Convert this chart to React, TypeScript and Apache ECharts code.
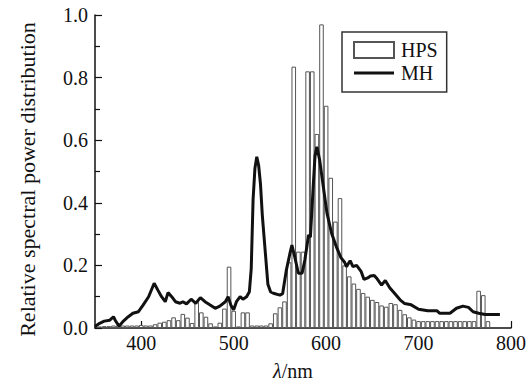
import React, { useEffect, useRef } from 'react';
import * as echarts from 'echarts';

const hpsWavelengths = [
  355, 360, 365, 370, 375, 380, 385, 390, 395, 400,
  405, 410, 415, 420, 425, 430, 435, 440, 445, 450,
  455, 460, 465, 470, 475, 480, 485, 490, 495, 500,
  505, 510, 515, 520, 525, 530, 535, 540, 545, 550,
  555, 560, 565, 570, 575, 580, 585, 590, 595, 600,
  605, 610, 615, 620, 625, 630, 635, 640, 645, 650,
  655, 660, 665, 670, 675, 680, 685, 690, 695, 700,
  705, 710, 715, 720, 725, 730, 735, 740, 745, 750,
  755, 760, 765, 770, 775,
];
const hpsValues = [
  0.005, 0.006, 0.006, 0.008, 0.008, 0.008, 0.008, 0.008, 0.008, 0.010,
  0.008, 0.008, 0.012, 0.017, 0.020, 0.025, 0.034, 0.025, 0.045, 0.033,
  0.016, 0.083, 0.050, 0.036, 0.015, 0.005, 0.017, 0.062, 0.196, 0.055,
  0.005, 0.050, 0.050, 0.008, 0.008, 0.008, 0.008, 0.015, 0.047, 0.066,
  0.085, 0.210, 0.835, 0.244, 0.244, 0.820, 0.820, 0.620, 0.970, 0.710,
  0.480, 0.340, 0.415, 0.200, 0.165, 0.142, 0.125, 0.112, 0.100, 0.090,
  0.083, 0.072, 0.068, 0.080, 0.076, 0.058, 0.044, 0.034, 0.027, 0.022,
  0.022, 0.022, 0.022, 0.022, 0.022, 0.022, 0.022, 0.022, 0.022, 0.022,
  0.022, 0.022, 0.119, 0.105, 0.022,
];

const mhWavelengths = [
  350, 355, 360, 366, 370, 372, 376, 381, 386, 391,
  397, 402, 408, 414, 418, 422, 426, 429, 433, 437,
  442, 445, 449, 454, 459, 464, 469, 475, 480, 485,
  491, 494, 497, 500, 503, 507, 510, 514, 517, 519,
  521, 523, 525, 527, 529, 531, 534, 537, 540, 543,
  550, 553, 557, 561, 563, 566, 570, 574, 577, 581,
  583, 586, 588, 590, 593, 597, 601, 606, 611, 616,
  620, 622, 626, 629, 633, 638, 641, 645, 648, 652,
  655, 660, 664, 669, 674, 680, 685, 692, 700, 710,
  720, 723, 734, 741, 748, 754, 759, 765, 772, 788,
];
const mhValues = [
  0.005, 0.015, 0.022, 0.025, 0.036, 0.024, 0.006, 0.023, 0.036, 0.047,
  0.052, 0.073, 0.100, 0.143, 0.121, 0.100, 0.084, 0.113, 0.100, 0.084,
  0.079, 0.084, 0.077, 0.092, 0.079, 0.097, 0.084, 0.073, 0.063, 0.070,
  0.084, 0.100, 0.073, 0.058, 0.084, 0.100, 0.092, 0.100, 0.116, 0.190,
  0.410, 0.510, 0.547, 0.520, 0.460, 0.360, 0.250, 0.140, 0.115, 0.111,
  0.105, 0.110, 0.185, 0.240, 0.265, 0.228, 0.175, 0.175, 0.217, 0.297,
  0.290, 0.450, 0.550, 0.579, 0.537, 0.451, 0.366, 0.302, 0.260, 0.225,
  0.210, 0.196, 0.215, 0.196, 0.200, 0.180, 0.155, 0.160, 0.166, 0.168,
  0.158, 0.137, 0.152, 0.128, 0.111, 0.090, 0.078, 0.074, 0.060, 0.055,
  0.055, 0.047, 0.047, 0.063, 0.070, 0.066, 0.052, 0.047, 0.043, 0.043,
];

const xTickValues = [400, 500, 600, 700, 800];
const seriesNames = ['HPS', 'MH'];
const xAxisTitle = '{i|λ}/nm';
const yAxisTitle = 'Relative spectral power distribution';

const FONT = "'Liberation Serif', 'Times New Roman', serif";
const INK = '#111';

export default function App() {
  const ref = useRef<HTMLDivElement>(null);
  useEffect(() => {
    if (!ref.current) return;
    const chart = echarts.init(ref.current, null, { renderer: 'svg' });
    const hpsData = hpsWavelengths.map((w, i) => [w, hpsValues[i]]);
    const mhData = mhWavelengths.map((w, i) => [w, mhValues[i]]);
    chart.setOption({
      animation: false,
      backgroundColor: '#ffffff',
      textStyle: { fontFamily: FONT, color: INK },
      grid: { left: 95, right: 18, top: 15, bottom: 53, containLabel: false, outerBoundsMode: 'none' },
      legend: {
        orient: 'vertical',
        left: 342,
        top: 32,
        padding: [8, 9, 9, 11],
        itemWidth: 40,
        itemHeight: 16,
        itemGap: 3,
        symbolKeepAspect: true,
        borderColor: '#333',
        borderWidth: 1.5,
        textStyle: { fontFamily: FONT, fontSize: 20, color: INK, padding: [0, 0, 0, 2] },
        data: [
          { name: seriesNames[0], icon: 'rect' },
          { name: seriesNames[1], icon: 'path://M0,0 L40,0 L40,3 L0,3 Z', itemStyle: { color: INK } },
        ],
      },
      xAxis: {
        type: 'value',
        min: 350,
        max: 800,
        name: xAxisTitle,
        nameLocation: 'middle',
        nameGap: 33,
        nameTextStyle: {
          fontFamily: FONT,
          fontSize: 20,
          color: INK,
          padding: [0, 20, 0, 0],
          rich: { i: { fontFamily: FONT, fontSize: 20, fontStyle: 'italic', color: INK } },
        },
        axisLine: { lineStyle: { color: INK, width: 1.5 } },
        axisTick: { inside: true, length: 7, lineStyle: { color: INK, width: 1.2 }, customValues: xTickValues },
        axisLabel: { fontFamily: FONT, fontSize: 20, color: INK, margin: 5, customValues: xTickValues },
        splitLine: { show: false },
      },
      yAxis: {
        type: 'value',
        min: 0,
        max: 1,
        interval: 0.2,
        name: yAxisTitle,
        nameLocation: 'middle',
        nameRotate: 90,
        nameGap: 57,
        nameTextStyle: { fontFamily: FONT, fontSize: 22, color: INK, padding: [0, 16, 0, 0] },
        axisLine: { show: true, lineStyle: { color: INK, width: 1.5 } },
        axisTick: { show: true, inside: true, length: 7, lineStyle: { color: INK, width: 1.2 } },
        minorTick: { show: true, splitNumber: 2, length: 5, lineStyle: { color: INK, width: 1.2 } },
        axisLabel: {
          fontFamily: FONT,
          fontSize: 20,
          color: INK,
          margin: 7,
          formatter: (v: number) => v.toFixed(1),
        },
        splitLine: { show: false },
      },
      series: [
        {
          name: seriesNames[0],
          type: 'bar',
          data: hpsData,
          barWidth: 4.6,
          itemStyle: { color: '#ffffff', borderColor: '#555', borderWidth: 1 },
          z: 2,
        },
        {
          name: seriesNames[1],
          type: 'line',
          data: mhData,
          symbol: 'none',
          showSymbol: false,
          lineStyle: { color: INK, width: 3 },
          itemStyle: { color: INK },
          z: 3,
        },
      ],
    });
    return () => chart.dispose();
  }, []);
  return <div ref={ref} style={{ width: 529, height: 381, position: 'absolute', left: 0, top: 0 }} />;
}
